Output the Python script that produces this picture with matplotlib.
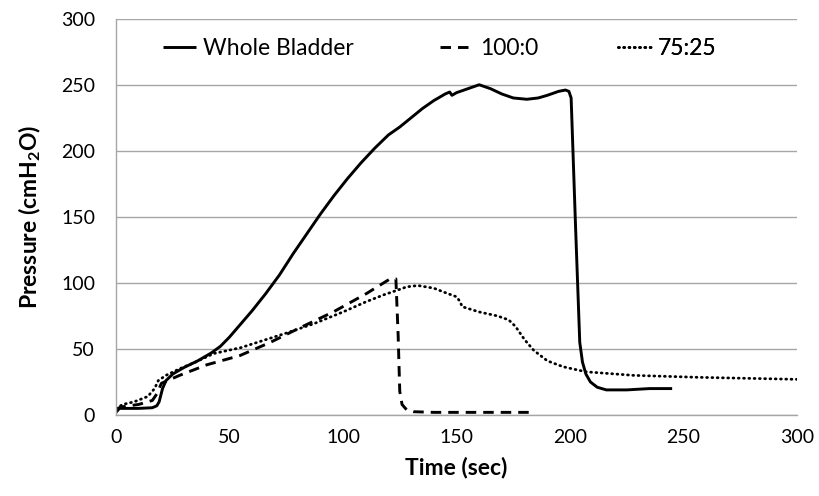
import matplotlib
matplotlib.use("Agg")
import matplotlib.pyplot as plt

plt.rcParams['font.family'] = ['Lato', 'DejaVu Sans']
plt.rcParams['mathtext.fontset'] = 'custom'
plt.rcParams['mathtext.rm'] = 'Lato'
plt.rcParams['mathtext.bf'] = 'Lato:bold'

# Whole Bladder
t_whole = [0, 1.5, 5, 10, 16, 18, 19, 20.5, 22, 25, 30, 36, 42, 46, 50, 54, 60, 66, 72,
           78, 84, 90, 96, 102, 108, 114, 120, 125, 130, 135, 140, 145, 147, 148, 150,
           155, 160, 165, 170, 175, 181, 186, 190, 195, 198, 199.5, 200.5, 202.5, 204.3,
           205.5, 207, 209, 212, 216, 220, 225, 230, 235, 240, 245]
p_whole = [2, 5, 5, 5, 5.5, 7, 10, 20, 26, 31, 36, 41, 47, 52, 59, 67, 79, 92, 106,
           122, 137, 152, 166, 179, 191, 202, 212, 218, 225, 232, 238, 243, 244.5, 242, 244,
           247, 250, 247, 243, 240, 239, 240, 242, 245, 246, 245, 240, 140, 55,
           40, 31, 25, 21, 19, 19, 19, 19.5, 20, 20, 20]

# 100:0
t_100 = [0, 2, 10, 16, 18, 20, 24, 28, 40, 54.6, 68, 81, 95.7, 110.4, 120.7, 123.3,
         124.3, 125, 126, 128, 131, 140, 160, 182]
p_100 = [4, 6, 8, 11, 16, 24, 27, 30, 38, 45, 55, 66, 78, 92, 103, 103,
         60, 18, 8, 4, 2.5, 2, 2, 2]

# 75:25
t_75 = [0, 3, 8, 14, 17, 18.6, 22, 28, 35, 43, 55, 65, 75, 87, 100, 110, 118, 124,
        128, 133, 140, 146, 150, 151.5, 152.5, 160, 168, 173, 176, 180, 184, 190, 197,
        207, 228, 257, 300]
p_75 = [5, 8, 10, 14, 20, 26, 30, 35, 40, 46.5, 51, 56.5, 62, 69, 78, 85.6, 91, 94.5,
        97, 98, 96, 92, 89.5, 86, 82, 78, 75, 72, 67, 57, 49, 41, 36.5,
        32.7, 30, 28.5, 27]

x_ticks = [0, 50, 100, 150, 200, 250, 300]
y_ticks = [0, 50, 100, 150, 200, 250, 300]
labels = ["Whole Bladder", "100:0", "75:25"]

fig = plt.figure(figsize=(8.19, 4.96), dpi=100)
ax = fig.add_axes([116/819, 1 - 415/496, 681/819, (415 - 18.7)/496])

l1, = ax.plot(t_whole, p_whole, color='black', lw=2.1, solid_capstyle='butt',
              solid_joinstyle='round')
l2, = ax.plot(t_100, p_100, color='black', lw=2.1, linestyle=(0, (3.6, 2.4)))
l3, = ax.plot(t_75, p_75, color='black', lw=2.0, linestyle=(0, (0.3, 1.6)),
              dash_capstyle='round')

ax.set_xlim(0, 300)
ax.set_ylim(0, 300)
ax.set_xticks(x_ticks)
ax.set_yticks(y_ticks)
ax.tick_params(axis='both', length=0, labelsize=14, colors='black')
ax.tick_params(axis='y', pad=15)
ax.tick_params(axis='x', pad=10)
ax.grid(axis='y', color='#a6a6a6', lw=1.0)
ax.set_axisbelow(True)
for s in ['top', 'right']:
    ax.spines[s].set_visible(False)
for s in ['left', 'bottom']:
    ax.spines[s].set_color('#a6a6a6')
    ax.spines[s].set_linewidth(1.0)

ax.set_xlabel('Time (sec)', fontsize=16.5, fontweight='bold', labelpad=8)
ax.set_ylabel(r'Pressure (cmH$_{\mathbf{2}}$O)', fontsize=16.5, fontweight='bold', labelpad=13)

xs = [(163 - 116)/681, (440 - 116)/681, (618 - 116)/681]
yc = (415 - 49)/(415 - 18.7)
for h, lab, x in zip([l1, l2, l3], labels, xs):
    leg = ax.legend([h], [lab], loc='center left', bbox_to_anchor=(x, yc),
                    frameon=False, fontsize=16.5, handlelength=1.45,
                    handletextpad=0.3, borderpad=0, borderaxespad=0)
    ax.add_artist(leg)

fig.savefig('out.png', dpi=100)
